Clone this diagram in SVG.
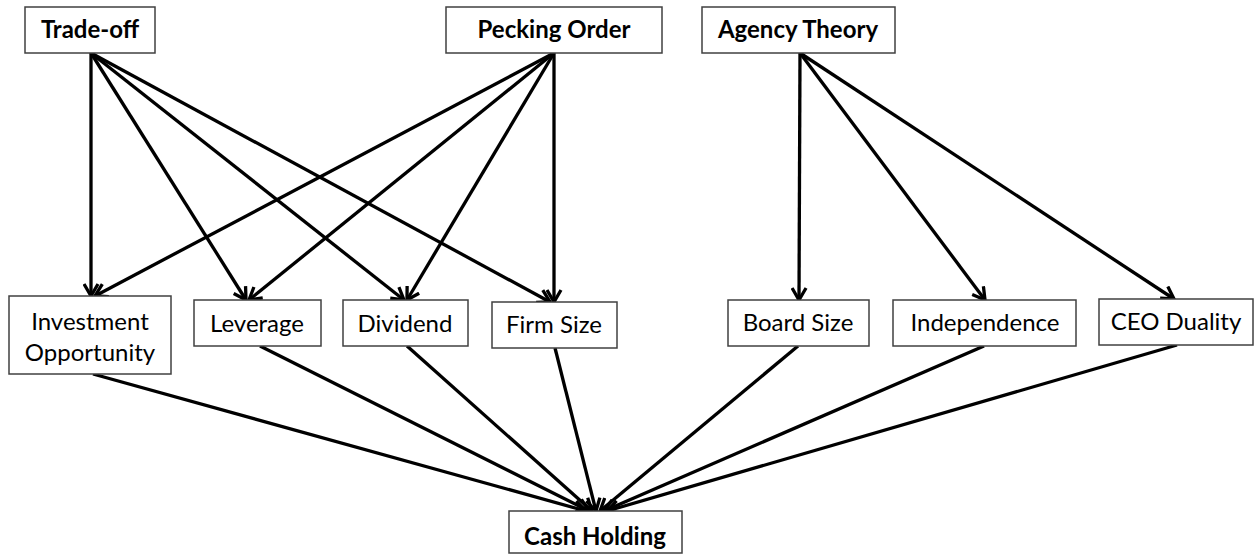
<svg xmlns="http://www.w3.org/2000/svg" width="1255" height="556" viewBox="0 0 1255 556">
<style>
.box{fill:#fff;stroke:#404040;stroke-width:1.5}
.t{font-family:Lato,"Open Sans","Liberation Sans",sans-serif;font-size:24px;fill:#000;text-anchor:middle}
.b{font-weight:bold}
.c{stroke:#000;stroke-width:3.3;fill:none;marker-end:url(#ah)}
</style>
<defs>
<marker id="ah" viewBox="0 0 15 17" refX="13" refY="8.5" markerWidth="15" markerHeight="17" markerUnits="userSpaceOnUse" orient="auto">
<path d="M1,1.5 L13,8.5 L1,15.5" stroke="#000" stroke-width="3.3" fill="none" stroke-linejoin="miter"/>
</marker>
</defs>
<rect width="1255" height="556" fill="#fff"/>
<g id="connectors">
<line class="c" x1="91" y1="53" x2="91" y2="296"/>
<line class="c" x1="91" y1="53" x2="246" y2="300"/>
<line class="c" x1="91" y1="53" x2="404" y2="300"/>
<line class="c" x1="91" y1="53" x2="550" y2="302"/>
<line class="c" x1="554" y1="53" x2="95" y2="296"/>
<line class="c" x1="554" y1="53" x2="249" y2="300"/>
<line class="c" x1="554" y1="53" x2="407" y2="300"/>
<line class="c" x1="554" y1="53" x2="554" y2="302"/>
<line class="c" x1="800" y1="53" x2="799" y2="300"/>
<line class="c" x1="800" y1="53" x2="985" y2="300"/>
<line class="c" x1="800" y1="53" x2="1174" y2="299"/>
<line class="c" x1="93" y1="374" x2="586" y2="511"/>
<line class="c" x1="260" y1="346" x2="589" y2="511"/>
<line class="c" x1="407" y1="346" x2="592" y2="511"/>
<line class="c" x1="555" y1="348" x2="596" y2="511"/>
<line class="c" x1="798" y1="346" x2="600" y2="511"/>
<line class="c" x1="984" y1="346" x2="604" y2="511"/>
<line class="c" x1="1177" y1="345" x2="607" y2="511"/>
</g>
<g id="tradeoff"><rect class="box" x="25" y="7" width="130" height="46"/><text class="t b" x="90" y="38">Trade-off</text></g>
<g id="pecking"><rect class="box" x="446" y="7" width="216" height="46"/><text class="t b" x="554" y="38">Pecking Order</text></g>
<g id="agency"><rect class="box" x="702" y="7" width="193" height="46"/><text class="t b" x="798" y="38">Agency Theory</text></g>
<g id="investment"><rect class="box" x="9" y="296" width="162" height="78"/><text class="t" x="90" y="330">Investment</text><text class="t" x="90" y="361">Opportunity</text></g>
<g id="leverage"><rect class="box" x="194" y="300" width="127" height="46"/><text class="t" x="257" y="332">Leverage</text></g>
<g id="dividend"><rect class="box" x="343" y="300" width="125" height="46"/><text class="t" x="405" y="332">Dividend</text></g>
<g id="firmsize"><rect class="box" x="492" y="302" width="125" height="46"/><text class="t" x="554" y="333">Firm Size</text></g>
<g id="boardsize"><rect class="box" x="728" y="300" width="141" height="46"/><text class="t" x="798" y="331">Board Size</text></g>
<g id="independence"><rect class="box" x="893" y="300" width="183" height="46"/><text class="t" x="985" y="331">Independence</text></g>
<g id="ceoduality"><rect class="box" x="1099" y="299" width="154" height="46"/><text class="t" x="1176" y="330">CEO Duality</text></g>
<g id="cashholding"><rect class="box" x="509" y="511" width="173" height="42"/><text class="t b" x="595" y="545">Cash Holding</text></g>
</svg>
